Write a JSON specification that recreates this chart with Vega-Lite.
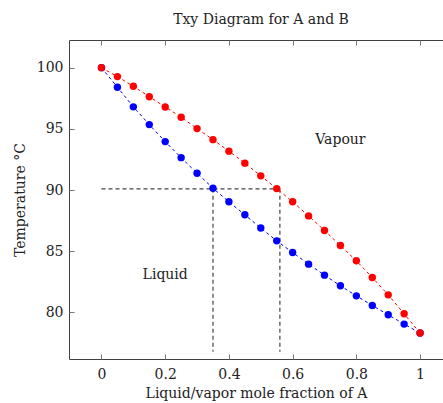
{
  "$schema": "https://vega.github.io/schema/vega-lite/v6.json",
  "width": 374,
  "height": 319,
  "autosize": "none",
  "padding": {"left": 69, "top": 40, "right": 0, "bottom": 44},
  "background": "white",
  "title": {"text": "Txy Diagram for A and B", "font": "DejaVu Serif", "fontSize": 14, "fontWeight": "normal", "color": "#222", "offset": 13, "dx": 5, "anchor": "middle"},
  "config": {
    "view": {"stroke": "#404040", "strokeWidth": 1},
    "axis": {"grid": false, "domain": false, "tickColor": "#777", "tickSize": -5, "labelFont": "DejaVu Serif", "labelFontSize": 14, "labelColor": "#222", "titleFont": "DejaVu Serif", "titleFontSize": 14, "titleFontWeight": "normal", "titleColor": "#222"}
  },
  "datasets": {
    "curves": [
      {"x": 0.00, "T": 100.00, "s": "liquid"}, {"x": 0.05, "T": 98.40, "s": "liquid"}, {"x": 0.10, "T": 96.80, "s": "liquid"},
      {"x": 0.15, "T": 95.35, "s": "liquid"}, {"x": 0.20, "T": 93.96, "s": "liquid"}, {"x": 0.25, "T": 92.65, "s": "liquid"},
      {"x": 0.30, "T": 91.38, "s": "liquid"}, {"x": 0.35, "T": 90.15, "s": "liquid"}, {"x": 0.40, "T": 89.04, "s": "liquid"},
      {"x": 0.45, "T": 87.98, "s": "liquid"}, {"x": 0.50, "T": 86.90, "s": "liquid"}, {"x": 0.55, "T": 85.85, "s": "liquid"},
      {"x": 0.60, "T": 84.90, "s": "liquid"}, {"x": 0.65, "T": 83.95, "s": "liquid"}, {"x": 0.70, "T": 83.05, "s": "liquid"},
      {"x": 0.75, "T": 82.18, "s": "liquid"}, {"x": 0.80, "T": 81.36, "s": "liquid"}, {"x": 0.85, "T": 80.57, "s": "liquid"},
      {"x": 0.90, "T": 79.81, "s": "liquid"}, {"x": 0.95, "T": 79.05, "s": "liquid"}, {"x": 1.00, "T": 78.32, "s": "liquid"},
      {"x": 0.00, "T": 100.00, "s": "vapor"}, {"x": 0.05, "T": 99.27, "s": "vapor"}, {"x": 0.10, "T": 98.48, "s": "vapor"},
      {"x": 0.15, "T": 97.63, "s": "vapor"}, {"x": 0.20, "T": 96.79, "s": "vapor"}, {"x": 0.25, "T": 95.95, "s": "vapor"},
      {"x": 0.30, "T": 95.02, "s": "vapor"}, {"x": 0.35, "T": 94.12, "s": "vapor"}, {"x": 0.40, "T": 93.18, "s": "vapor"},
      {"x": 0.45, "T": 92.20, "s": "vapor"}, {"x": 0.50, "T": 91.16, "s": "vapor"}, {"x": 0.55, "T": 90.12, "s": "vapor"},
      {"x": 0.60, "T": 89.04, "s": "vapor"}, {"x": 0.65, "T": 87.89, "s": "vapor"}, {"x": 0.70, "T": 86.70, "s": "vapor"},
      {"x": 0.75, "T": 85.47, "s": "vapor"}, {"x": 0.80, "T": 84.22, "s": "vapor"}, {"x": 0.85, "T": 82.86, "s": "vapor"},
      {"x": 0.90, "T": 81.44, "s": "vapor"}, {"x": 0.95, "T": 79.89, "s": "vapor"}, {"x": 1.00, "T": 78.32, "s": "vapor"}
    ],
    "guides": [
      {"x1": 0, "x2": 0.56, "y1": 90.1, "y2": 90.1},
      {"x1": 0.35, "x2": 0.35, "y1": 90.1, "y2": 76.8},
      {"x1": 0.56, "x2": 0.56, "y1": 90.1, "y2": 76.8}
    ],
    "labels": [
      {"x": 0.75, "T": 94.1, "text": "Vapour"},
      {"x": 0.20, "T": 83.05, "text": "Liquid"}
    ]
  },
  "resolve": {"axis": {"x": "independent"}},
  "layer": [
    {
      "data": {"name": "guides"},
      "mark": {"type": "rule", "color": "#444", "strokeWidth": 1.2, "strokeDash": [4, 3]},
      "encoding": {
        "x": {"field": "x1", "type": "quantitative", "scale": {"domain": [-0.102, 1.072], "nice": false, "zero": false},
              "axis": {"orient": "bottom", "values": [0, 0.2, 0.4, 0.6, 0.8, 1], "format": "~g", "labelPadding": 13, "title": "Liquid/vapor mole fraction of A", "titlePadding": 5}},
        "x2": {"field": "x2"},
        "y": {"field": "y1", "type": "quantitative", "scale": {"domain": [76.2, 102.26], "nice": false, "zero": false},
              "axis": {"values": [80, 85, 90, 95, 100], "labelPadding": 11, "title": "Temperature °C", "titlePadding": 9}},
        "y2": {"field": "y2"}
      }
    },
    {
      "data": {"name": "curves"},
      "mark": {"type": "line", "strokeWidth": 1, "strokeDash": [3, 3]},
      "encoding": {
        "x": {"field": "x", "type": "quantitative", "axis": {"orient": "top", "values": [0, 0.2, 0.4, 0.6, 0.8, 1], "labels": false, "title": null}},
        "y": {"field": "T", "type": "quantitative"},
        "color": {"field": "s", "type": "nominal", "scale": {"domain": ["liquid", "vapor"], "range": ["#0000ff", "#ff0000"]}, "legend": null}
      }
    },
    {
      "data": {"name": "curves"},
      "mark": {"type": "point", "filled": true, "size": 55, "opacity": 1},
      "encoding": {
        "x": {"field": "x", "type": "quantitative", "axis": null},
        "y": {"field": "T", "type": "quantitative"},
        "color": {"field": "s", "type": "nominal", "legend": null}
      }
    },
    {
      "data": {"name": "labels"},
      "mark": {"type": "text", "font": "DejaVu Serif", "fontSize": 14, "color": "#222"},
      "encoding": {
        "x": {"field": "x", "type": "quantitative", "axis": null},
        "y": {"field": "T", "type": "quantitative"},
        "text": {"field": "text"}
      }
    }
  ]
}
